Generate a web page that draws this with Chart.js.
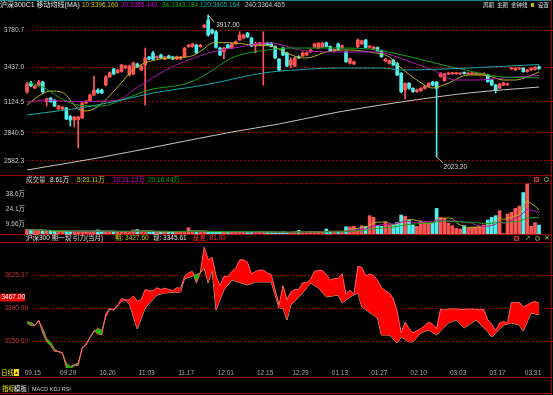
<!DOCTYPE html>
<html><head><meta charset="utf-8">
<title>沪深300C1</title>
<script src="https://cdn.jsdelivr.net/npm/chart.js@4.4.1/dist/chart.umd.min.js"></script>
<style>
html,body{margin:0;padding:0;background:#000;}
#wrap{position:relative;width:553px;height:395px;background:#000;overflow:hidden;font-family:"Liberation Sans","Noto Sans CJK SC",sans-serif;font-size:6.5px;}
#wrap canvas{position:absolute;left:0;}
.t{position:absolute;white-space:nowrap;line-height:8px;}
.h{position:absolute;left:0;width:552px;height:1px;background:#a00000;}
.ic{position:absolute;width:5px;height:5px;}
</style></head><body>
<div id="wrap">
<canvas id="cMain" width="553" height="175" style="top:0"></canvas>
<canvas id="cVol" width="553" height="51" style="top:183px"></canvas>
<canvas id="cBasis" width="553" height="136" style="top:242px"></canvas>

<div class="h" style="top:0;background:#1f8a8a;"></div>
<div class="h" style="top:175px"></div>
<div class="h" style="top:183px;background:none;border-top:1px dashed #900000;height:0;left:26px;width:526px"></div>
<div class="h" style="top:234px"></div>
<div class="h" style="top:242px"></div>
<div class="h" style="top:377px"></div>
<div class="h" style="top:393px"></div>
<div style="position:absolute;left:551px;top:0;width:1px;height:395px;background:#a00000"></div>

<div class="t" style="left:0;top:1px;color:#e6e6e6;font-size:7px">沪深300C1 移动均线(MA)</div>
<div class="t" style="left:82px;top:1px;color:#c8c800">10:3396.160</div>
<div class="t" style="left:121px;top:1px;color:#d000d0">20:3365.440</div>
<div class="t" style="left:162px;top:1px;color:#00b000">34:3343.184</div>
<div class="t" style="left:200px;top:1px;color:#00b4b4">120:3465.164</div>
<div class="t" style="left:245px;top:1px;color:#c8c8c8">240:3364.465</div>
<div class="t" style="left:483px;top:1px;color:#e0e0e0;font-size:5.5px">周期</div>
<div class="t" style="left:497px;top:1px;color:#e0e0e0;font-size:5.5px">主图</div>
<div class="t" style="left:511px;top:1px;color:#e0e0e0;font-size:5.5px">金钟线</div>
<div class="ic" style="left:531px;top:3px;width:3px;height:4px;background:#c8b400"></div>
<div class="t" style="left:538px;top:1px;color:#e0e0e0;font-size:5.5px">设置</div>

<div class="t" style="left:26px;top:176px;color:#c8c8c8">成交量</div>
<div class="t" style="left:50px;top:176px;color:#e6e6e6">8.61万</div>
<div class="t" style="left:77px;top:176px;color:#c8c800">5:23.11万</div>
<div class="t" style="left:113px;top:176px;color:#d000d0">10:21.12万</div>
<div class="t" style="left:148px;top:176px;color:#00b000">20:16.44万</div>
<div class="ic" style="left:534px;top:177px;background:#6a1010;border:1px solid #a04040;width:3px;height:3px"></div>
<div class="ic" style="left:544px;top:177px;border:1px solid #80a040;border-radius:3px;width:3px;height:3px"></div>

<div class="t" style="left:26px;top:234px;color:#e0e0e0">沪深300 期一现 引力(当月)</div>
<div class="t" style="left:115px;top:234px;color:#c8c800">期: 3427.60</div>
<div class="t" style="left:153px;top:234px;color:#e0e0e0">现: 3345.61</div>
<div class="t" style="left:193px;top:234px;color:#ff3030">基差: 81.99</div>
<div class="ic" style="left:514px;top:236px;background:#6a1010;border:1px solid #a04040;width:3px;height:3px"></div>
<div class="t" style="left:525px;top:234px;color:#80b040">➚</div>
<div class="ic" style="left:535px;top:236px;border:1px solid #80a040;border-radius:3px;width:3px;height:3px"></div>
<div class="t" style="left:544px;top:234px;color:#c8c800">✕</div>

<div class="t" style="left:1px;top:369px;color:#e8e800">日线</div>
<div class="t" style="left:14px;top:369px;width:5px;height:7px;line-height:7px;background:#e8e800;color:#a00000;font-size:5px;text-align:center">▲</div>

<div class="t" style="left:2px;top:385px;color:#e8e800">指标</div>
<div class="t" style="left:14px;top:385px;color:#e6e6e6">模板</div>
<div class="t" style="left:28px;top:385px;color:#909090">|</div>
<div class="t" style="left:32px;top:385px;color:#c8c8c8;font-size:5.5px">MACD KDJ RSI</div>
</div>

<script>
// ---------- data ----------
const OPEN = [3213,3298,3250,3270,3305,3125,3158,3140,3058,3058,
3067,2990,2957,2960,2976,3113,3131,3186,3232,3232,
3277,3351,3424,3390,3400,3433,3369,3378,3470,3415,
3460,3534,3570,3525,3552,3515,3543,3534,3515,3515,
3537,3628,3628,3643,3628,3805,3872,3781,3765,3616,
3582,3643,3616,3653,3689,3707,3753,3707,3634,3643,
3643,3662,3662,3630,3515,3616,3570,3460,3451,3537,
3543,3552,3580,3625,3615,3625,3665,3630,3590,3653,
3616,3580,3475,3470,3627,3653,3689,3622,3604,3620,
3590,3497,3475,3506,3475,3385,3232,3293,3247,3216,
3225,3247,3268,3305,3305,3355,3317,3378,3380,3381,
3379,3392,3378,3380,3377,3375,3372,3369,3323,3277,
3250,3277,3280,3424,3415,3425,3430,3400,3415,3420,
3445];
const HIGH = [3300,3310,3275,3320,3312,3158,3165,3145,3092,3082,
3072,2998,2990,2992,3120,3135,3195,3360,3245,3240,
3365,3398,3430,3422,3468,3458,3460,3488,3478,3458,
3616,3540,3585,3545,3560,3540,3550,3540,3543,3540,
3622,3650,3660,3650,3650,3832,3917,3790,3775,3625,
3622,3650,3660,3680,3765,3745,3760,3715,3670,3668,
3765,3670,3668,3636,3520,3625,3578,3525,3532,3545,
3580,3580,3605,3660,3668,3668,3672,3636,3610,3660,
3644,3587,3527,3497,3700,3690,3696,3640,3632,3627,
3597,3522,3506,3513,3482,3392,3300,3300,3254,3239,
3254,3275,3300,3312,3310,3392,3385,3392,3394,3392,
3390,3398,3391,3392,3389,3388,3388,3376,3330,3284,
3294,3303,3295,3440,3437,3441,3437,3422,3437,3447,
3452];
const LOW = [3200,3262,3245,3265,3200,3085,3118,3078,3052,3050,
2960,2902,2893,2701,2970,3105,3125,3180,3200,3198,
3270,3345,3370,3385,3395,3428,3360,3372,3435,3410,
3094,3510,3510,3520,3520,3510,3520,3510,3510,3510,
3530,3622,3622,3562,3622,3800,3725,3745,3615,3545,
3515,3610,3610,3648,3685,3700,3710,3628,3570,3638,
3277,3638,3625,3518,3408,3545,3444,3433,3445,3518,
3538,3546,3575,3620,3610,3620,3625,3585,3585,3598,
3610,3483,3468,3463,3620,3648,3616,3616,3598,3584,
3530,3490,3468,3453,3362,3208,3150,3240,3209,3209,
3218,3240,3261,3270,2023.2,3348,3310,3372,3374,3375,
3373,3376,3372,3374,3371,3369,3366,3301,3270,3204,
3243,3270,3273,3418,3409,3419,3393,3394,3409,3414,
3421];
const CLOSE = [3287,3270,3268,3305,3215,3152,3125,3085,3085,3076,
2966,2957,2985,2985,3113,3131,3186,3232,3208,3204,
3351,3390,3378,3415,3460,3451,3451,3479,3442,3451,
3525,3515,3515,3537,3525,3534,3525,3515,3537,3534,
3616,3643,3653,3570,3643,3826,3735,3753,3622,3552,
3616,3616,3653,3675,3735,3735,3717,3634,3653,3662,
3662,3643,3630,3525,3415,3552,3451,3506,3525,3525,
3573,3573,3598,3653,3660,3660,3630,3590,3603,3603,
3637,3490,3520,3490,3689,3683,3622,3634,3625,3590,
3537,3515,3500,3460,3369,3216,3293,3247,3216,3232,
3247,3268,3293,3277,3247,3385,3378,3385,3387,3386,
3384,3382,3385,3386,3383,3381,3382,3308,3277,3232,
3287,3296,3288,3433,3430,3434,3400,3415,3430,3440,
3427.6];
// volume, in 万
const VOLUME = [4.5,4.0,3.8,3.6,3.0,2.8,2.6,2.4,2.6,2.4,
2.8,2.6,2.5,2.8,2.7,2.5,2.6,2.8,4.0,2.6,
2.4,2.3,2.5,2.2,2.4,2.1,2.5,3.8,4.3,2.4,
2.8,2.2,2.1,2.0,2.2,2.1,2.0,2.2,2.1,2.4,
2.2,6.1,2.4,2.2,2.0,2.3,2.6,1.9,2.1,2.0,
1.9,1.8,2.0,2.1,2.5,1.9,2.0,1.8,2.1,1.9,
2.3,1.7,1.4,1.4,1.3,2.2,1.2,1.6,2.2,3.5,
1.2,1.6,2.2,2.2,2.2,1.6,4.8,2.2,2.2,2.5,
1.6,7.0,7.0,7.4,3.5,8.0,7.4,17.7,16.0,8.0,
7.4,11.2,8.7,8.7,11.0,18.3,17.0,13.5,8.7,7.4,
12.8,11.2,10.6,10.6,24.7,16.0,15.0,10.6,8.0,5.4,
4.8,8.0,5.4,6.8,6.8,7.4,8.7,13.5,16.0,17.7,
22.5,0.6,19.3,20.9,24.7,27.0,40.0,48.5,7.4,11.0,
8.61];

// moving averages of price, read at sample candles
const MA10_AT = [0,4,6,9,13,15,18,21,24,27,30,34,39,42,45,47,51,58,62,66,70,72,76,81,87,92,95,99,103,107,112,116,121,124,127,130];
const MA10    = [3095,3200,3222,3210,3060,3040,3080,3180,3300,3420,3480,3515,3530,3545,3610,3662,3665,3643,3634,3570,3525,3530,3579,3598,3579,3534,3433,3323,3250,3296,3369,3369,3323,3323,3351,3396.16];
const MA20_AT = [0,5,12,20,24,27,30,35,41,47,54,61,64,68,72,81,87,90,96,103,109,114,121,130];
const MA20    = [3122,3140,3125,3130,3150,3232,3300,3410,3506,3579,3625,3662,3650,3610,3585,3579,3580,3575,3506,3415,3323,3323,3342,3365.44];
const MA34_AT = [0,4,8,13,19,24,31,41,46,52,61,68,77,87,93,109,121,130];
const MA34    = [3305,3259,3168,3094,3085,3140,3232,3296,3387,3525,3598,3616,3616,3607,3570,3433,3351,3343.18];
const MA120_AT = [0,15,24,32,45,60,68,79,90,95,112,130];
const MA120    = [3003,3076,3140,3204,3277,3387,3415,3433,3433,3415,3433,3465.16];
const MA240_AT = [0,18,35,52,64,79,95,112,130];
const MA240    = [2500,2610,2728,2847,2921,3030,3122,3204,3259];

// spot index (现) for the basis panel, read at sample candles
const SPOT_AT = [0,1,2,3,4,5,6,7,8,9,10,11,12,13,14,15,16,17,18,19,20,21,22,23,24,25,26,28,30,33,35,39,40,44,45,46,47,48,50,52,56,58,62,64,65,66,67,70,72,74,76,79,80,82,84,85,89,90,92,94,95,97,98,100,102,104,107,109,111,114,117,118,121,123,125,126,128,130];
const SPOT    = [3295,3290,3272,3302,3245,3175,3150,3100,3082,3070,3000,2978,2990,3002,3105,3140,3182,3228,3248,3232,3330,3385,3380,3408,3440,3448,3420,3244,3393,3485,3500,3507,3600,3642,3677,3571,3663,3379,3521,3592,3556,3578,3578,3393,3393,3308,3414,3500,3571,3535,3471,3485,3429,3471,3500,3400,3322,3201,3201,3145,3187,3152,3152,3216,3237,3201,3287,3308,3251,3308,3223,3187,3272,3287,3272,3230,3358,3345.61];

const DATE_LABELS = ['09.15','09.29','10.20','11.03','11.17','12.01','12.15','12.29','01.13','01.27','02.10','03.03','03.17','03.31'];
const DATE_AT     = [0,9,19,29,39,49,59,68,78,88,98,108,118,127];

const PRICE_TICKS = [2582.3, 2840.5, 3124.5, 3437.0, 3780.7];
const PRICE_TICK_TEXT = ['2582.3','2840.5','3124.5','3437.0','3780.7'];
const VOL_TICKS = [9.66, 24.1, 38.6];
const VOL_TICK_TEXT = ['9.66万','24.1万','38.6万'];
const BASIS_TICKS = [3156.60, 3390.98, 3625.37];
const BASIS_TICK_TEXT = ['3156.60','3390.98','3625.37'];
const LAST_MARK = 3467.00;
const LOW_WICK_FLOOR = 2620;   // lowest price the software draws a wick to

// ---------- layout / style ----------
const N = CLOSE.length;
const IDX = Array.from({length: N}, (_, i) => i);
const FIRST_PX = 27, LAST_PX = 539, W = 553;
const STEP = (LAST_PX - FIRST_PX) / (N - 1);
const X_MIN = -FIRST_PX / STEP, X_MAX = X_MIN + W / STEP;
const RED = '#ff5454', CYAN = '#4ef0f0';
const isUp = i => CLOSE[i] >= OPEN[i];
const candleColor = c => isUp(c.dataIndex) ? RED : CYAN;
const FONT = '6.5px "Liberation Sans", "Noto Sans CJK SC", sans-serif';
const GRID_RED = '#a00000';

function pts(at, vals) { return at.map((x, j) => ({x, y: vals[j]})); }
function movAvg(arr, n) {
  return arr.map((_, i) => { const s = Math.max(0, i - n + 1); let t = 0; for (let j = s; j <= i; j++) t += arr[j]; return t / (i - s + 1); });
}
function xAxisHidden() {
  return {type: 'linear', min: X_MIN, max: X_MAX, offset: false, display: false, grid: {offset: false}};
}
function yAxis(min, max, ticks, grid) {
  return {
    type: 'linear', min, max, position: 'left', beginAtZero: false,
    afterBuildTicks: s => { s.ticks = ticks.map(v => ({value: v})); },
    afterFit: s => { s.width = 0; },
    ticks: {display: false},
    grid: {display: grid, color: GRID_RED, drawTicks: false, lineWidth: 1},
    border: {display: false, dash: [2, 2]}
  };
}
function maLine(at, vals, color) {
  return {type: 'line', data: pts(at, vals), borderColor: color, borderWidth: 1, pointRadius: 0,
          cubicInterpolationMode: 'monotone', fill: false, order: 0};
}
function baseOptions(scales, plugins) {
  return {
    responsive: false, animation: false, devicePixelRatio: 1,
    layout: {padding: 0, autoPadding: false},
    events: [],
    scales,
    plugins: Object.assign({legend: {display: false}, tooltip: {enabled: false}}, plugins)
  };
}

const yLabelPlugin = {
  id: 'ylab',
  beforeDatasetsDraw(chart, args, o) {
    if (!o || !o.values) return;
    const ctx = chart.ctx, ys = chart.scales.y;
    ctx.save();
    ctx.font = FONT; ctx.textAlign = 'right'; ctx.textBaseline = 'middle';
    o.values.forEach((v, i) => {
      const py = ys.getPixelForValue(v);
      ctx.fillStyle = '#000'; ctx.fillRect(0, py - 4, o.right + 1.5, 8);
      ctx.fillStyle = o.color; ctx.fillText(o.labels[i], o.right, py);
    });
    ctx.restore();
  }
};

const extremePlugin = {
  id: 'extremes',
  afterDatasetsDraw(chart) {
    const ctx = chart.ctx, xs = chart.scales.x, ys = chart.scales.y;
    let hi = 0, lo = 0;
    HIGH.forEach((v, i) => { if (v > HIGH[hi]) hi = i; });
    LOW.forEach((v, i) => { if (v < LOW[lo]) lo = i; });
    ctx.save();
    ctx.strokeStyle = '#b8b8b8'; ctx.fillStyle = '#d8d8d8'; ctx.lineWidth = 1;
    ctx.font = FONT; ctx.textAlign = 'left'; ctx.textBaseline = 'middle';
    const hx = xs.getPixelForValue(hi), hy = ys.getPixelForValue(HIGH[hi]);
    ctx.beginPath(); ctx.moveTo(hx + 1, hy + 1); ctx.lineTo(hx + 6, hy + 7); ctx.stroke();
    ctx.fillText(HIGH[hi].toFixed(2), hx + 8, hy + 10);
    const lx = xs.getPixelForValue(lo), ly = ys.getPixelForValue(Math.max(LOW[lo], LOW_WICK_FLOOR));
    ctx.beginPath(); ctx.moveTo(lx, ly); ctx.lineTo(lx + 6, ly + 6); ctx.stroke();
    ctx.fillText(LOW[lo].toFixed(2), lx + 7, ly + 10);
    ctx.restore();
  }
};

const markPlugin = {
  id: 'mark',
  afterDraw(chart) {
    const ctx = chart.ctx, py = chart.scales.y.getPixelForValue(LAST_MARK);
    ctx.save();
    ctx.fillStyle = '#e00000'; ctx.fillRect(0, py - 4, 25, 8);
    ctx.fillStyle = '#ffffff'; ctx.font = FONT; ctx.textAlign = 'left'; ctx.textBaseline = 'middle';
    ctx.fillText(LAST_MARK.toFixed(2), 1.5, py);
    ctx.restore();
  }
};

// ---------- main price chart ----------
new Chart(document.getElementById('cMain'), {
  type: 'line',
  data: {datasets: [
    {type: 'bar', data: IDX.map(i => ({x: i, y: [Math.max(LOW[i], LOW_WICK_FLOOR), HIGH[i]]})),
     backgroundColor: candleColor, grouped: false, maxBarThickness: 1, barPercentage: 1, categoryPercentage: 1, order: 2},
    {type: 'bar', data: IDX.map(i => ({x: i, y: [OPEN[i], CLOSE[i]]})),
     backgroundColor: candleColor, grouped: false, maxBarThickness: 3, barPercentage: 1, categoryPercentage: 1, minBarLength: 1, order: 1},
    maLine(MA240_AT, MA240, '#c4c4c4'),
    maLine(MA120_AT, MA120, '#14a8a8'),
    maLine(MA34_AT, MA34, '#18a018'),
    maLine(MA20_AT, MA20, '#b018b0'),
    maLine(MA10_AT, MA10, '#b4b420')
  ]},
  options: baseOptions({x: xAxisHidden(), y: yAxis(2454, 4055.2, PRICE_TICKS, true)},
    {ylab: {values: PRICE_TICKS, labels: PRICE_TICK_TEXT, color: '#c8c8c8', right: 24}}),
  plugins: [yLabelPlugin, extremePlugin]
});

// ---------- volume chart ----------
new Chart(document.getElementById('cVol'), {
  type: 'line',
  data: {datasets: [
    {type: 'bar', data: IDX.map(i => ({x: i, y: VOLUME[i]})), backgroundColor: candleColor,
     grouped: false, maxBarThickness: 3, barPercentage: 1, categoryPercentage: 1, order: 1},
    maLine(IDX, movAvg(VOLUME, 20), '#18a018'),
    maLine(IDX, movAvg(VOLUME, 10), '#b018b0'),
    maLine(IDX, movAvg(VOLUME, 5), '#b4b420')
  ]},
  options: baseOptions({x: xAxisHidden(), y: yAxis(0, 49.2, VOL_TICKS, false)},
    {ylab: {values: VOL_TICKS, labels: VOL_TICK_TEXT, color: '#c8c8c8', right: 25}}),
  plugins: [yLabelPlugin]
});

// ---------- basis chart ----------
new Chart(document.getElementById('cBasis'), {
  type: 'line',
  data: {datasets: [
    {data: IDX.map(i => ({x: i, y: CLOSE[i]})), borderColor: '#ff6060', borderWidth: 1, pointRadius: 0, tension: 0,
     fill: {target: 1, above: '#ff0000', below: '#00c000'}},
    {data: pts(SPOT_AT, SPOT), borderColor: '#ff8c8c', borderWidth: 1, pointRadius: 0, tension: 0, fill: false}
  ]},
  options: baseOptions({
    x: {type: 'linear', min: X_MIN, max: X_MAX, position: 'bottom', offset: false,
        afterBuildTicks: s => { s.ticks = DATE_AT.map(v => ({value: v - 0.6})); },
        afterFit: s => { s.height = 10; },
        grid: {display: false, drawTicks: false}, border: {display: false},
        ticks: {color: '#a8a8a8', font: {family: '"Liberation Sans"', size: 6.5}, padding: 1.5, align: 'start',
                autoSkip: false, maxRotation: 0, callback: (v, i) => DATE_LABELS[i]}},
    y: yAxis(2967.1, 3861.7, BASIS_TICKS, true)
  }, {ylab: {values: BASIS_TICKS, labels: BASIS_TICK_TEXT, color: '#c03030', right: 28}}),
  plugins: [yLabelPlugin, markPlugin]
});
</script>
</body></html>
